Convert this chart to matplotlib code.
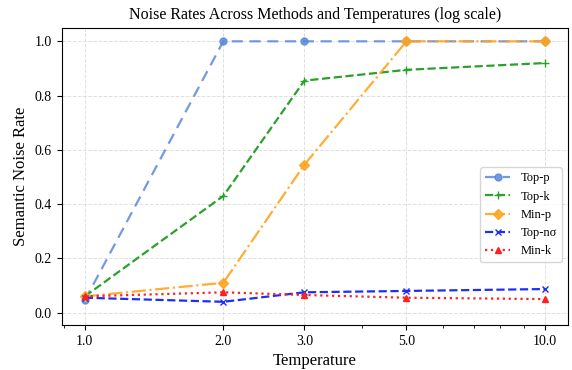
import matplotlib
matplotlib.use('Agg')
import matplotlib.pyplot as plt
from matplotlib.ticker import NullFormatter

plt.rcParams['font.family'] = ['Liberation Serif', 'DejaVu Serif']

temperatures = [1.0, 2.0, 3.0, 5.0, 10.0]
tick_labels = ['1.0', '2.0', '3.0', '5.0', '10.0']
top_p = [0.045, 1.0, 1.0, 1.0, 1.0]
top_k = [0.06, 0.43, 0.855, 0.895, 0.92]
min_p = [0.06, 0.11, 0.545, 1.0, 1.0]
top_nsigma = [0.055, 0.04, 0.075, 0.08, 0.087]
min_k = [0.06, 0.075, 0.065, 0.055, 0.05]

fig, ax = plt.subplots(figsize=(5.72, 3.70), dpi=100)
fig.subplots_adjust(left=0.108, right=0.993, top=0.925, bottom=0.122)

ax.plot(temperatures, top_p, color='#5b88dc', alpha=0.85, linestyle=(0, (5, 3)), marker='o', markersize=5, linewidth=1.6, label='Top-p')
ax.plot(temperatures, top_k, color='#2ca02c', linestyle='--', marker='+', markersize=6, linewidth=1.6, label='Top-k')
ax.plot(temperatures, min_p, color='#ffa51f', alpha=0.9, linestyle='-.', marker='D', markersize=5, linewidth=1.6, label='Min-p')
ax.plot(temperatures, top_nsigma, color='#1f2ff0', linestyle='--', marker='x', markersize=5, linewidth=1.6, label='Top-n\u03c3')
ax.plot(temperatures, min_k, color='#ff2020', linestyle=':', marker='^', markersize=5, linewidth=1.6, label='Min-k')

ax.set_xscale('log')
ax.set_xticks(temperatures)
ax.set_xticklabels(tick_labels)
ax.xaxis.set_minor_formatter(NullFormatter())
ax.set_ylim(-0.045, 1.05)

ax.grid(True, linestyle='--', color='#d8d8d8', linewidth=0.7, alpha=0.8)
ax.set_title('Noise Rates Across Methods and Temperatures (log scale)', fontsize=11.5)
ax.set_xlabel('Temperature', fontsize=12)
ax.set_ylabel('Semantic Noise Rate', fontsize=12)
ax.tick_params(labelsize=10)
ax.legend(loc='center right', bbox_to_anchor=(1.0, 0.37), fontsize=9)

fig.savefig('out.png', dpi=100)
